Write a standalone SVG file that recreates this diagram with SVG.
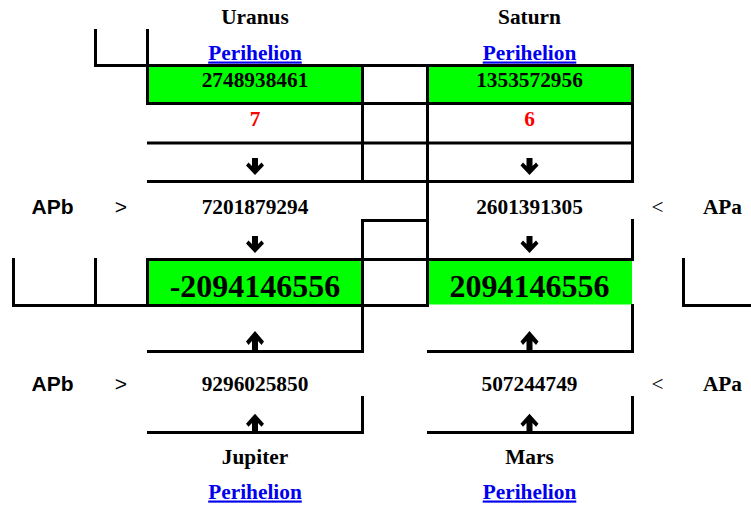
<svg xmlns="http://www.w3.org/2000/svg" xmlns:xlink="http://www.w3.org/1999/xlink" width="751" height="507" viewBox="0 0 751 507">
  <style>
    .t { font-family: "Liberation Serif", "Times New Roman", serif; font-weight: bold; font-size: 21.33px; fill: #000; text-anchor: middle; }
    .s { font-family: "Liberation Sans", Arial, sans-serif; font-weight: bold; font-size: 21px; fill: #000; text-anchor: middle; }
    .n { font-weight: normal; }
    .big { font-size: 32px; }
    .red { fill: #FF0000; }
    .link { fill: #0000EE; text-decoration: underline; }
    .g { fill: #00FF00; }
    .b { fill: none; stroke: #000; stroke-width: 3; stroke-linecap: square; stroke-linejoin: miter; }
    .arr { fill: #000; }
  </style>
  <defs>
    <path id="arrow" class="arr" d="M-3,0 H3 V8 L6.5,4.5 L9,7.5 L0,17 L-9,7.5 L-6.5,4.5 L-3,8 Z"/>
  </defs>

  <rect width="751" height="507" fill="#fff"/>

  <g id="cells-fill">
    <rect class="g" x="147.5" y="65.5" width="215" height="38"/>
    <rect class="g" x="427.5" y="65.5" width="205" height="38"/>
    <rect class="g" x="147.5" y="259.5" width="215" height="46"/>
    <rect class="g" x="427.5" y="259.5" width="204.5" height="45"/>
  </g>

  <g id="grid">
    <path class="b" d="M95.5,30.5 V65.5 H632.5 V181.5"/>
    <path class="b" d="M147.5,30.5 V103.5 H632.5"/>
    <path class="b" d="M362.5,65.5 V181.5"/>
    <path class="b" d="M427.5,65.5 V305.5"/>
    <path class="b" d="M148.5,143 H632.5"/>
    <path class="b" d="M148.5,181.5 H632.5"/>
    <path class="b" d="M427.5,220.5 H362.5 V351.5 H148.5"/>
    <path class="b" d="M632.5,220.5 V259.5 H147.5 V305.5"/>
    <path class="b" d="M13.5,259.5 V305.5 H427.5"/>
    <path class="b" d="M95.5,259.5 V305.5"/>
    <path class="b" d="M632.5,305.5 V351.5 H428.5"/>
    <path class="b" d="M683.5,259.5 V305.5 H752"/>
    <path class="b" d="M362.5,397.5 V432.5 H148.5"/>
    <path class="b" d="M632.5,397.5 V432.5 H428.5"/>
  </g>

  <g id="connectors">
    <use xlink:href="#arrow" href="#arrow" transform="translate(255,158)"/>
    <use xlink:href="#arrow" href="#arrow" transform="translate(529.5,158)"/>
    <use xlink:href="#arrow" href="#arrow" transform="translate(255,236)"/>
    <use xlink:href="#arrow" href="#arrow" transform="translate(529.5,236)"/>
    <use xlink:href="#arrow" href="#arrow" transform="translate(255,350) scale(1,-1.12)"/>
    <use xlink:href="#arrow" href="#arrow" transform="translate(529.5,350) scale(1,-1.12)"/>
    <use xlink:href="#arrow" href="#arrow" transform="translate(255,431.5) scale(1,-1.05)"/>
    <use xlink:href="#arrow" href="#arrow" transform="translate(529.5,431.5) scale(1,-1.05)"/>
  </g>

  <g id="uranus">
    <text class="t" x="255" y="24">Uranus</text>
    <text class="t link" x="255" y="59.5">Perihelion</text>
    <text class="t" x="255" y="87">2748938461</text>
    <text class="t red" x="255" y="126">7</text>
  </g>
  <g id="saturn">
    <text class="t" x="529.5" y="24">Saturn</text>
    <text class="t link" x="529.5" y="59.5">Perihelion</text>
    <text class="t" x="529.5" y="87">1353572956</text>
    <text class="t red" x="529.5" y="126">6</text>
  </g>
  <g id="row-upper">
    <text class="s" x="52.5" y="214">APb</text>
    <text class="s n" x="121" y="214">&gt;</text>
    <text class="t" x="255" y="214">7201879294</text>
    <text class="t" x="529.5" y="214">2601391305</text>
    <text class="t n" x="657.5" y="214">&lt;</text>
    <text class="t" x="722.5" y="214">APa</text>
  </g>
  <g id="result-left">
    <text class="t big" x="255" y="297">-2094146556</text>
  </g>
  <g id="result-right">
    <text class="t big" x="529.5" y="297">2094146556</text>
  </g>
  <g id="row-lower">
    <text class="s" x="52.5" y="391">APb</text>
    <text class="s n" x="121" y="391">&gt;</text>
    <text class="t" x="255" y="391">9296025850</text>
    <text class="t" x="529.5" y="391">507244749</text>
    <text class="t n" x="657.5" y="391">&lt;</text>
    <text class="t" x="722.5" y="391">APa</text>
  </g>
  <g id="jupiter">
    <text class="t" x="255" y="464">Jupiter</text>
    <text class="t link" x="255" y="498.5">Perihelion</text>
  </g>
  <g id="mars">
    <text class="t" x="529.5" y="464">Mars</text>
    <text class="t link" x="529.5" y="498.5">Perihelion</text>
  </g>
</svg>
